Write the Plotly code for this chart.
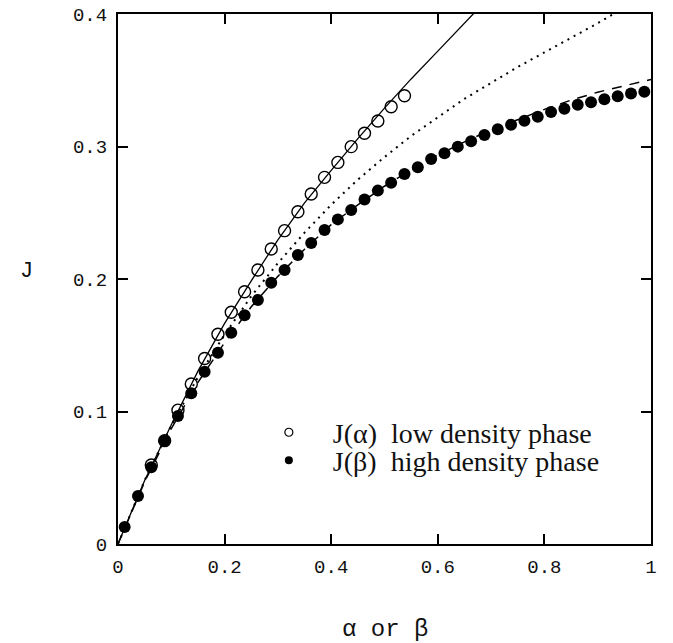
import plotly.graph_objects as go

# ---- data ----
pts_x = [0.0125 + 0.025 * k for k in range(40)]  # sample positions (alpha or beta)

open_x = pts_x[2:22]
open_J = [0.0596, 0.078, 0.101, 0.1208, 0.140, 0.1583, 0.1749, 0.1904, 0.2068, 0.2226,
          0.2365, 0.2508, 0.2642, 0.2767, 0.288, 0.2999, 0.310, 0.3192, 0.330, 0.3383]

filled_x = pts_x
filled_J = [0.0128, 0.0362, 0.058, 0.078, 0.0966, 0.1137, 0.130, 0.1444, 0.1595, 0.1726,
            0.1842, 0.1972, 0.2068, 0.2181, 0.2272, 0.237, 0.245, 0.252, 0.260, 0.2667,
            0.2727, 0.2792, 0.2843, 0.2906, 0.2949, 0.2999, 0.3040, 0.3087, 0.313, 0.3165,
            0.3195, 0.3225, 0.3260, 0.3285, 0.3315, 0.3334, 0.3356, 0.3380, 0.3400, 0.3414]

solid_x = [0, 0.05, 0.1, 0.15, 0.2, 0.25, 0.3, 0.35, 0.4, 0.45, 0.5, 0.55, 0.6, 0.65, 0.67]
solid_J = [0, 0.048, 0.090, 0.1305, 0.1665, 0.1986, 0.2296, 0.2575, 0.282, 0.306,
           0.329, 0.351, 0.372, 0.393, 0.4015]

dotted_x = [0, 0.05, 0.1, 0.15, 0.2, 0.25, 0.3, 0.35, 0.4, 0.45, 0.5, 0.55, 0.6, 0.65,
            0.7, 0.75, 0.8, 0.85, 0.9, 0.95]
dotted_J = [0, 0.048, 0.0895, 0.126, 0.158, 0.187, 0.212, 0.235, 0.256, 0.275, 0.292,
            0.308, 0.322, 0.336, 0.348, 0.360, 0.371, 0.382, 0.393, 0.405]

dashed_x = [0, 0.05, 0.1, 0.15, 0.2, 0.25, 0.3, 0.35, 0.4, 0.45, 0.5, 0.55, 0.6, 0.65,
            0.7, 0.75, 0.8, 0.85, 0.9, 0.95, 1.0]
dashed_J = [0, 0.047, 0.087, 0.122, 0.152, 0.179, 0.202, 0.2225, 0.241, 0.256, 0.270,
            0.2825, 0.2935, 0.3035, 0.3125, 0.3205, 0.328, 0.335, 0.341, 0.3458, 0.3505]

x_ticks = [0, 0.2, 0.4, 0.6, 0.8, 1.0]
x_ticktext = ["0", "0.2", "0.4", "0.6", "0.8", "1"]
y_ticks = [0, 0.1, 0.2, 0.3, 0.4]
y_ticktext = ["0", "0.1", "0.2", "0.3", "0.4"]

legend_labels = ["J(\u03b1)\u00a0\u00a0low density phase", "J(\u03b2)\u00a0\u00a0high density phase"]

MONO = "Liberation Mono, Courier New, monospace"
SERIF = "Liberation Serif, Times New Roman, serif"

fig = go.Figure()

fig.add_trace(go.Scatter(x=dotted_x, y=dotted_J, mode="lines", showlegend=False,
                         line=dict(color="black", width=2, dash="2px,5px")))
fig.add_trace(go.Scatter(x=dashed_x, y=dashed_J, mode="lines", showlegend=False,
                         line=dict(color="black", width=1.5, dash="10px,8px")))
fig.add_trace(go.Scatter(x=solid_x, y=solid_J, mode="lines", showlegend=False,
                         line=dict(color="black", width=1.3)))
fig.add_trace(go.Scatter(x=open_x, y=open_J, mode="markers", showlegend=False,
                         marker=dict(symbol="circle-open", size=12, color="black",
                                     line=dict(width=1.4, color="black"))))
fig.add_trace(go.Scatter(x=filled_x, y=filled_J, mode="markers", showlegend=False,
                         marker=dict(symbol="circle", size=12, color="black")))

# legend entries (two legends so the row spacing can match the reference)
fig.add_trace(go.Scatter(x=[None], y=[None], mode="markers", name=legend_labels[0],
                         legend="legend",
                         marker=dict(symbol="circle-open", size=8, color="black",
                                     line=dict(width=1.2, color="black"))))
fig.add_trace(go.Scatter(x=[None], y=[None], mode="markers", name=legend_labels[1],
                         legend="legend2",
                         marker=dict(symbol="circle", size=8, color="black")))

axis_common = dict(showline=True, linecolor="black", linewidth=2, mirror="allticks",
                   ticks="inside", ticklen=10, tickwidth=1.5, tickcolor="black",
                   showgrid=False, zeroline=False, automargin=False,
                   tickfont=dict(family=MONO, size=19, color="#111"))

fig.update_xaxes(range=[0, 1], tickvals=x_ticks, ticktext=x_ticktext,
                 ticklabelstandoff=4, **axis_common)
fig.update_yaxes(range=[0, 0.4], tickvals=y_ticks, ticktext=y_ticktext,
                 ticklabelstandoff=5, **axis_common)

legend_common = dict(xanchor="left", yanchor="top", bgcolor="rgba(0,0,0,0)",
                     borderwidth=0, font=dict(family=SERIF, size=28, color="#111"),
                     tracegroupgap=0, itemwidth=78)

fig.update_layout(
    width=673, height=643,
    margin=dict(l=118, r=22, t=14, b=99, autoexpand=False),
    paper_bgcolor="white", plot_bgcolor="white",
    showlegend=True,
    legend=dict(x=0.238, y=0.2575, **legend_common),
    legend2=dict(x=0.238, y=0.2047, **legend_common),
    annotations=[
        dict(text="\u03b1 or \u03b2", xref="paper", yref="paper", x=0.5, y=-0.162,
             xanchor="center", yanchor="middle", showarrow=False,
             font=dict(family=MONO, size=24, color="#111")),
        dict(text="J", xref="paper", yref="paper", x=-0.172, y=0.515,
             xanchor="center", yanchor="middle", showarrow=False,
             font=dict(family=MONO, size=22, color="#111")),
    ],
)

fig.write_html("out.html", post_script="document.body.style.margin='0';",
               config={"displayModeBar": False})
